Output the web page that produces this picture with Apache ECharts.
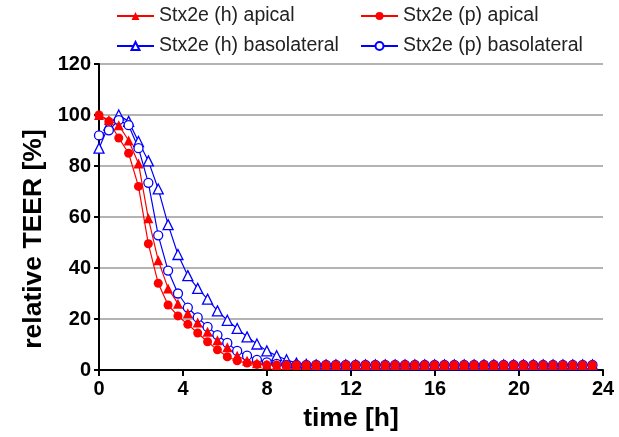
<!DOCTYPE html>
<html>
<head>
<meta charset="utf-8">
<script src="https://cdn.jsdelivr.net/npm/echarts@6/dist/echarts.min.js"></script>
<style>
  html, body { margin: 0; padding: 0; background: #fff; }
  #chart { width: 619px; height: 437px; }
</style>
</head>
<body>
<div id="chart"></div>
<script>
// Measurement times (h)
const times = [
  0, 0.47, 0.94, 1.41, 1.88, 2.35, 2.82, 3.29, 3.76, 4.23,
  4.7, 5.17, 5.64, 6.11, 6.58, 7.05, 7.52, 7.99, 8.46, 8.93,
  9.4, 9.87, 10.34, 10.81, 11.28, 11.75, 12.22, 12.69, 13.16, 13.63,
  14.1, 14.57, 15.04, 15.51, 15.98, 16.45, 16.92, 17.39, 17.86, 18.33,
  18.8, 19.27, 19.74, 20.21, 20.68, 21.15, 21.62, 22.09, 22.56, 23.03,
  23.5
];

// Relative TEER (%) per condition
const hApical = [
  100, 98, 96, 90, 81, 59.5, 43, 32, 26, 22.3,
  18.6, 15, 11.7, 8.9, 5.6, 3.6, 2.6, 2.2, 2, 2,
  2, 2, 2, 2, 2, 2, 2, 2, 2, 2,
  2, 2, 2, 2, 2, 2, 2, 2, 2, 2,
  2, 2, 2, 2, 2, 2, 2, 2, 2, 2,
  2
];
const pApical = [
  100, 97.5, 91, 85, 72, 49.5, 34, 25.5, 21.2, 17.9,
  14.5, 11.1, 7.9, 5.2, 3.6, 2.7, 2.2, 2, 2, 2,
  2, 2, 2, 2, 2, 2, 2, 2, 2, 2,
  2, 2, 2, 2, 2, 2, 2, 2, 2, 2,
  2, 2, 2, 2, 2, 2, 2, 2, 2, 2,
  2
];
const hBasolateral = [
  87, 96, 100, 97.5, 89.6, 82, 71, 57, 45.3, 37,
  32, 27.8, 23.2, 19.5, 16.3, 13, 10.2, 7.5, 5.6, 4,
  2.7, 2.2, 2, 2, 2, 2, 2, 2, 2, 2,
  2, 2, 2, 2, 2, 2, 2, 2, 2, 2,
  2, 2, 2, 2, 2, 2, 2, 2, 2, 2,
  2
];
const pBasolateral = [
  92, 94, 98, 96, 87, 73.4, 52.8, 39, 30, 24.5,
  20.6, 16.9, 13.7, 10.6, 7.5, 5.6, 4, 3, 2.4, 2,
  2, 2, 2, 2, 2, 2, 2, 2, 2, 2,
  2, 2, 2, 2, 2, 2, 2, 2, 2, 2,
  2, 2, 2, 2, 2, 2, 2, 2, 2, 2,
  2
];

const xTicks = [0, 4, 8, 12, 16, 20, 24];
const yTicks = [0, 20, 40, 60, 80, 100, 120];

const RED = '#ff0000';
const BLUE = '#0000ff';
const FONT = '"Liberation Sans", Arial, Helvetica, sans-serif';

function pairs(ys) {
  return times.map((t, i) => [t, ys[i]]);
}

function lineSeries(name, ys, color, symbol, filled) {
  return {
    name: name,
    type: 'line',
    data: pairs(ys),
    symbol: symbol,
    symbolSize: symbol === 'triangle' ? 10 : 9,
    showAllSymbol: true,
    lineStyle: { color: color, width: 1.2 },
    itemStyle: {
      color: filled ? color : '#ffffff',
      borderColor: color,
      borderWidth: filled ? 0 : 1.3
    },
    emphasis: { disabled: true },
    animation: false
  };
}

const chart = echarts.init(document.getElementById('chart'), null, { renderer: 'canvas' });

const legendText = { fontFamily: FONT, fontSize: 19.5, color: '#222' };

chart.setOption({
  backgroundColor: '#ffffff',
  animation: false,
  textStyle: { fontFamily: FONT },
  grid: { left: 99, right: 16, top: 64, bottom: 66, containLabel: false },
  legend: [
    {
      data: ['Stx2e (h) apical', 'Stx2e (h) basolateral'],
      orient: 'vertical',
      left: 111,
      top: 1,
      itemWidth: 37,
      itemHeight: 10,
      itemGap: 10,
      textStyle: legendText,
      selectedMode: false
    },
    {
      data: ['Stx2e (p) apical', 'Stx2e (p) basolateral'],
      orient: 'vertical',
      left: 355,
      top: 1,
      itemWidth: 37,
      itemHeight: 10,
      itemGap: 10,
      textStyle: legendText,
      selectedMode: false
    }
  ],
  xAxis: {
    type: 'value',
    min: xTicks[0],
    max: xTicks[xTicks.length - 1],
    interval: 4,
    name: 'time [h]',
    nameLocation: 'middle',
    nameGap: 35,
    nameTextStyle: { fontFamily: FONT, fontSize: 26.5, fontWeight: 'bold', color: '#000' },
    axisLine: { lineStyle: { color: '#000', width: 2 } },
    axisTick: { length: 6, lineStyle: { color: '#000', width: 2 } },
    axisLabel: { fontFamily: FONT, fontSize: 20, fontWeight: 'bold', color: '#000', margin: 9 },
    splitLine: { show: false }
  },
  yAxis: {
    type: 'value',
    min: yTicks[0],
    max: yTicks[yTicks.length - 1],
    interval: 20,
    name: 'relative TEER [%]',
    nameLocation: 'middle',
    nameGap: 50,
    nameTextStyle: {
      fontFamily: FONT, fontSize: 26.5, fontWeight: 'bold', color: '#000',
      padding: [0, 44, 0, 0]
    },
    axisLine: { show: true, lineStyle: { color: '#000', width: 2 } },
    axisTick: { show: true, length: 5, lineStyle: { color: '#000', width: 2 } },
    axisLabel: { fontFamily: FONT, fontSize: 20, fontWeight: 'bold', color: '#000', margin: 8 },
    splitLine: { show: true, lineStyle: { color: '#9a9a9a', width: 1.5 } }
  },
  series: [
    lineSeries('Stx2e (h) basolateral', hBasolateral, BLUE, 'triangle', false),
    lineSeries('Stx2e (p) basolateral', pBasolateral, BLUE, 'circle', false),
    lineSeries('Stx2e (h) apical', hApical, RED, 'triangle', true),
    lineSeries('Stx2e (p) apical', pApical, RED, 'circle', true)
  ]
});
</script>
</body>
</html>
